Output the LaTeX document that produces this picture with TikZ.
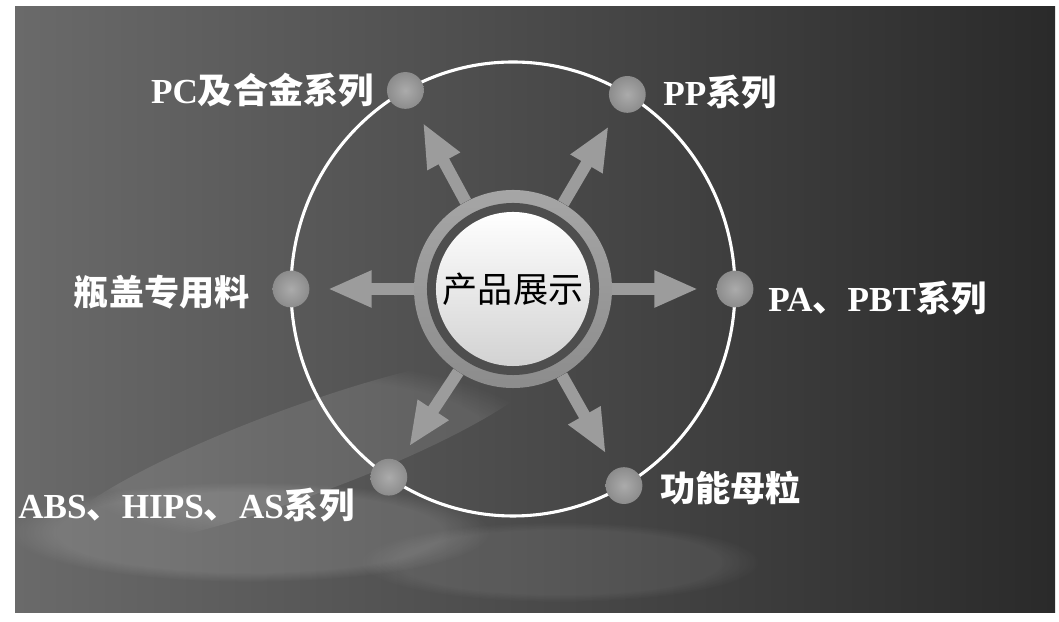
\documentclass[tikz,border=0pt]{standalone}
\usepackage{fontspec}
\setmainfont{Liberation Serif}
\newfontfamily\cjk{Noto Sans CJK SC}
\usepackage{tikz}
\usetikzlibrary{arrows.meta,fadings}
\newcommand\zh[1]{{\cjk #1}}

\definecolor{bgleft}{HTML}{6A6A6A}
\definecolor{bgright}{HTML}{2A2A2A}
\definecolor{spokegray}{HTML}{9C9C9C}
\definecolor{ballhi}{HTML}{ABABAB}
\definecolor{balllo}{HTML}{8C8C8C}
\definecolor{hubdark}{HTML}{4E4E4E}

\tikzset{
  lbl/.style={text=white, font=\fontsize{25}{30}\selectfont\bfseries, inner sep=0pt},
  ball/.style={circle, minimum size=0.92cm, inner sep=0pt, inner color=ballhi, outer color=balllo},
  spoke/.style={draw=spokegray, line width=0.3cm, -{Triangle[length=1.1cm,width=0.85cm]}, shorten >=0.45cm},
  cloud/.style={white, path fading=circle with fuzzy edge 20 percent},
  hub/.style={circle, minimum size=4.95cm, inner sep=0pt, top color=gray!70, bottom color=gray!110!black,
    font=\cjk\fontsize{25}{30}\selectfont,
    path picture={
      \fill[hubdark] (path picture bounding box.center) circle (2.15cm);
      \shade[top color=white, bottom color=gray!35] (path picture bounding box.center) circle (1.925cm);
    }}
}

\begin{document}
\begin{tikzpicture}[x=0.025cm, y=0.025cm]
\useasboundingbox (0,0) rectangle (1059,622);
\fill[white] (0,0) rectangle (1059,622);
\shade[left color=bgleft, right color=bgright] (15,9) rectangle (1055,615);
% clouds
\fill[cloud, opacity=.12] (250,90) ellipse (240 and 50);
\fill[cloud, opacity=.10, rotate around={20:(300,170)}] (300,170) ellipse (260 and 45);
\fill[cloud, opacity=.08] (560,60) ellipse (200 and 40);
\coordinate (o) at (513,333);
\draw[white, line width=2.2pt] (o) ellipse (222 and 227);
% balls on the ring
\node[ball] (pp)  at ([shift={(59:222 and 227)}]o) {};
\node[ball] (pc)  at ([shift={(119:222 and 227)}]o) {};
\node[ball] (cap) at ([shift={(180:222 and 227)}]o) {};
\node[ball] (pa)  at ([shift={(0:222 and 227)}]o) {};
\node[ball] (abs) at ([shift={(236:222 and 227)}]o) {};
\node[ball] (mb)  at ([shift={(300:222 and 227)}]o) {};
\node[hub] (hub) at (o) {产品展示};
\foreach \b in {pp,pc,cap,pa,abs,mb}
  \draw[spoke] (hub) -- (\b);
% labels
\node[lbl, anchor=east] (lpc)  at (374,532) {PC\zh{及合金系列}};
\node[lbl, anchor=west] (lpp)  at (663,530) {PP\zh{系列}};
\node[lbl, anchor=east] (lcap) at (250,330) {\zh{瓶盖专用料}};
\node[lbl, anchor=west] (lpa)  at (768,324) {PA\zh{、}PBT\zh{系列}};
\node[lbl, anchor=west] (labs) at (18,117) {ABS\zh{、}HIPS\zh{、}AS\zh{系列}};
\node[lbl, anchor=west] (lmb)  at (660,134) {\zh{功能母粒}};
\end{tikzpicture}
\end{document}
